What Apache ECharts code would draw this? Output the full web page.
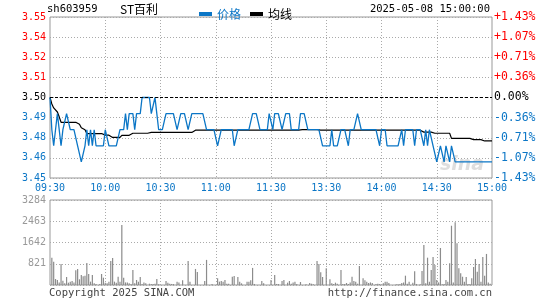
<!DOCTYPE html>
<html><head><meta charset="utf-8">
<script src="https://cdn.jsdelivr.net/npm/echarts/dist/echarts.min.js"></script>
<style>html,body{margin:0;padding:0;background:#fff}#c{width:545px;height:300px}</style>
</head><body><div id="c"></div>
<script>
const stockCode = 'sh603959';
const stockName = 'ST百利';
const timestamp = '2025-05-08 15:00:00';
const prevClose = 3.50;
const xTickLabels = ['09:30','10:00','10:30','11:00','11:30','13:30','14:00','14:30','15:00'];
const priceTickLabels = ['3.45','3.46','3.48','3.49','3.50','3.51','3.52','3.54','3.55'];
const pctTickLabels = ['-1.43%','-1.07%','-0.71%','-0.36%','0.00%','+0.36%','+0.71%','+1.07%','+1.43%'];
const volTickLabels = ['','821','1642','2463','3284'];

const price = [
3.50,3.48,3.47,3.48,3.49,3.49,3.47,3.48,3.48,3.49,
3.49,3.48,3.48,3.48,3.48,3.47,3.47,3.46,3.46,3.47,
3.48,3.47,3.48,3.47,3.48,3.47,3.47,3.47,3.47,3.47,
3.48,3.48,3.47,3.47,3.47,3.47,3.47,3.47,3.48,3.48,
3.48,3.49,3.48,3.49,3.49,3.49,3.48,3.49,3.49,3.49,
3.50,3.50,3.50,3.50,3.50,3.49,3.49,3.50,3.49,3.48,
3.48,3.48,3.48,3.49,3.49,3.49,3.49,3.49,3.49,3.48,
3.48,3.49,3.49,3.49,3.49,3.48,3.48,3.49,3.49,3.49,
3.49,3.49,3.49,3.49,3.49,3.48,3.48,3.48,3.48,3.48,
3.48,3.47,3.47,3.48,3.48,3.48,3.48,3.48,3.48,3.48,
3.47,3.47,3.48,3.48,3.48,3.48,3.48,3.48,3.48,3.48,
3.49,3.49,3.49,3.49,3.48,3.48,3.48,3.48,3.48,3.49,
3.49,3.48,3.49,3.49,3.49,3.49,3.48,3.48,3.49,3.49,
3.49,3.48,3.48,3.48,3.48,3.48,3.49,3.49,3.49,3.49,
3.48,3.48,3.48,3.48,3.48,3.48,3.48,3.48,3.47,3.47,
3.47,3.47,3.47,3.48,3.47,3.47,3.47,3.47,3.48,3.48,
3.48,3.48,3.47,3.48,3.48,3.48,3.48,3.49,3.49,3.48,
3.48,3.48,3.48,3.48,3.48,3.48,3.48,3.48,3.48,3.47,
3.48,3.48,3.48,3.47,3.47,3.47,3.47,3.47,3.47,3.47,
3.47,3.48,3.47,3.48,3.48,3.48,3.48,3.48,3.47,3.48,
3.48,3.48,3.48,3.47,3.48,3.47,3.48,3.48,3.47,3.47,
3.46,3.46,3.47,3.47,3.46,3.47,3.47,3.46,3.47,3.47,
3.46,3.46,3.46,3.46,3.46,3.46,3.46,3.46,3.46,3.46,
3.46,3.46,3.46,3.46,3.46,3.46,3.46,3.46,3.46,3.46,
3.46
];

const avgPrice = [
3.5000,3.4960,3.4935,3.4925,3.4910,3.4880,3.4846,3.4846,3.4846,3.4846,
3.4846,3.4846,3.4846,3.4846,3.4846,3.4834,3.4834,3.4812,3.4812,3.4800,
3.4776,3.4776,3.4776,3.4776,3.4776,3.4776,3.4776,3.4776,3.4776,3.4776,
3.4766,3.4766,3.4766,3.4766,3.4752,3.4752,3.4752,3.4752,3.4752,3.4765,
3.4765,3.4765,3.4765,3.4765,3.4765,3.4778,3.4778,3.4778,3.4778,3.4778,
3.4778,3.4778,3.4778,3.4778,3.4778,3.4783,3.4783,3.4783,3.4783,3.4783,
3.4783,3.4783,3.4783,3.4783,3.4783,3.4783,3.4783,3.4783,3.4783,3.4783,
3.4783,3.4783,3.4783,3.4783,3.4783,3.4783,3.4783,3.4783,3.4783,3.4797,
3.4797,3.4797,3.4797,3.4797,3.4797,3.4797,3.4797,3.4797,3.4797,3.4797,
3.4797,3.4797,3.4797,3.4797,3.4797,3.4797,3.4797,3.4797,3.4797,3.4797,
3.4797,3.4797,3.4797,3.4797,3.4797,3.4797,3.4797,3.4797,3.4797,3.4797,
3.4797,3.4797,3.4797,3.4797,3.4797,3.4797,3.4797,3.4797,3.4797,3.4797,
3.4797,3.4797,3.4797,3.4797,3.4797,3.4797,3.4797,3.4797,3.4797,3.4797,
3.4797,3.4797,3.4797,3.4797,3.4797,3.4797,3.4800,3.4800,3.4800,3.4800,
3.4800,3.4800,3.4800,3.4800,3.4800,3.4800,3.4800,3.4797,3.4797,3.4797,
3.4797,3.4797,3.4797,3.4797,3.4797,3.4797,3.4797,3.4797,3.4797,3.4797,
3.4797,3.4797,3.4797,3.4797,3.4797,3.4797,3.4797,3.4797,3.4797,3.4797,
3.4797,3.4797,3.4797,3.4797,3.4797,3.4797,3.4797,3.4797,3.4797,3.4797,
3.4797,3.4797,3.4797,3.4797,3.4797,3.4797,3.4797,3.4797,3.4797,3.4797,
3.4797,3.4797,3.4797,3.4797,3.4797,3.4797,3.4797,3.4797,3.4797,3.4797,
3.4797,3.4797,3.4797,3.4785,3.4785,3.4785,3.4785,3.4785,3.4785,3.4778,
3.4778,3.4778,3.4778,3.4778,3.4778,3.4778,3.4778,3.4778,3.4746,3.4746,
3.4746,3.4746,3.4746,3.4746,3.4746,3.4746,3.4746,3.4746,3.4746,3.4738,
3.4738,3.4738,3.4738,3.4738,3.4738,3.4730,3.4730,3.4730,3.4730,3.4730,
3.4730
];

const volume = [
0,1050,900,230,190,100,810,167,64,310,
90,130,155,100,570,620,220,390,335,360,
850,425,130,390,64,40,0,40,425,283,
90,64,130,930,1040,130,90,320,130,2320,
283,100,100,64,40,580,64,193,130,310,
40,100,64,0,50,40,40,50,230,25,
0,0,0,155,90,50,40,40,0,130,
100,0,180,0,0,930,130,0,0,620,
500,0,0,0,155,970,0,0,40,0,
0,260,130,155,130,193,50,50,0,320,
350,0,310,130,64,0,0,130,130,180,
660,40,0,0,0,155,64,0,0,0,
193,0,386,40,40,0,155,193,0,90,
155,50,100,130,40,0,116,0,0,25,
0,77,50,25,0,930,810,490,310,0,
645,0,220,64,40,90,50,0,580,40,
40,77,40,100,320,155,130,50,735,0,
260,180,130,77,100,77,0,40,50,40,
0,64,130,130,77,0,0,0,25,25,
40,77,100,360,50,130,0,90,530,40,
0,25,540,1545,64,1056,130,580,1080,770,
193,100,1430,25,40,193,130,837,2290,100,
2420,1610,645,450,320,130,310,40,40,260,
695,1005,515,810,130,1080,360,1200,100,50,
0
];

// minute categories 09:30-11:30, 13:01-15:00
const times = [];
function pad(n){return (n<10?'0':'')+n;}
for (let m = 9*60+30; m <= 11*60+30; m++) times.push(pad(Math.floor(m/60))+':'+pad(m%60));
for (let m = 13*60+1; m <= 15*60; m++) times.push(pad(Math.floor(m/60))+':'+pad(m%60));

const BLUE = '#0b76c6', RED = '#f00', GRAY = '#999';
const MONO = 'DejaVu Sans Mono';
const pMin = 3.45, pMax = 3.55, pStep = 0.0125;
function pIdx(v){return Math.round((v - pMin)/pStep);}
function pColor(v){const k = pIdx(v); return k > 4 ? RED : (k === 4 ? '#000' : BLUE);}
const every30 = (idx) => idx % 30 === 0;
const split30 = (idx) => idx % 30 === 0 && idx > 0 && idx < times.length - 1;

const chart = echarts.init(document.getElementById('c'), null, {renderer: 'canvas'});
chart.setOption({
  animation: false,
  backgroundColor: '#fff',
  textStyle: {fontFamily: MONO},
  legend: {
    left: 194, top: 3, icon: 'rect', itemWidth: 13, itemHeight: 4, itemGap: 9,
    textStyle: {fontSize: 12, fontFamily: 'Noto Sans CJK SC'},
    data: [{name: '价格', textStyle: {color: BLUE}}, {name: '均线', textStyle: {color: '#000'}}]
  },
  grid: [
    {left: 50, top: 17, width: 442, height: 161, show: true, borderColor: GRAY, borderWidth: 1, backgroundColor: '#fff'},
    {left: 50, top: 200, width: 442, height: 85, show: true, borderColor: GRAY, borderWidth: 1, backgroundColor: '#fff'}
  ],
  xAxis: [
    {type: 'category', gridIndex: 0, data: times, boundaryGap: false,
     axisLine: {show: false}, axisTick: {show: false},
     axisLabel: {interval: every30, color: BLUE, fontSize: 10, fontFamily: MONO, margin: 5,
       showMinLabel: true, showMaxLabel: true,
       formatter: (v, idx) => xTickLabels[Math.round(idx/30)]},
     splitLine: {show: true, interval: split30, lineStyle: {color: '#aaa', type: [1,2], width: 1}}},
    {type: 'category', gridIndex: 1, data: times, boundaryGap: false,
     axisLine: {show: false}, axisTick: {show: false}, axisLabel: {show: false},
     splitLine: {show: true, interval: split30, lineStyle: {color: '#aaa', type: [1,2], width: 1}}}
  ],
  yAxis: [
    {type: 'value', gridIndex: 0, min: pMin, max: pMax, interval: pStep, position: 'left',
     axisLine: {show: false}, axisTick: {show: false},
     axisLabel: {fontSize: 10, fontFamily: MONO, margin: 4, color: (v) => pColor(v),
       formatter: (v) => priceTickLabels[pIdx(v)]},
     splitLine: {show: true, lineStyle: {color: '#aaa', type: [1,2], width: 1}}},
    {type: 'value', gridIndex: 0, min: pMin, max: pMax, interval: pStep, position: 'right',
     axisLine: {show: false}, axisTick: {show: false},
     axisLabel: {fontSize: 11.5, fontFamily: MONO, margin: 2, color: (v) => pColor(v),
       formatter: (v) => pctTickLabels[pIdx(v)]},
     splitLine: {show: false}},
    {type: 'value', gridIndex: 1, min: 0, max: 3284, interval: 821,
     axisLine: {show: false}, axisTick: {show: false},
     axisLabel: {fontSize: 10, fontFamily: MONO, margin: 4, color: GRAY,
       formatter: (v) => volTickLabels[Math.round(v/821)]},
     splitLine: {show: true, lineStyle: {color: '#aaa', type: [1,2], width: 1}}}
  ],
  series: [
    {name: '价格', type: 'line', xAxisIndex: 0, yAxisIndex: 0, data: price, showSymbol: false,
     lineStyle: {color: BLUE, width: 1.3}, itemStyle: {color: BLUE}, z: 3,
     markLine: {silent: true, symbol: 'none', label: {show: false},
       lineStyle: {color: '#000', type: [3,2], width: 1}, data: [{yAxis: prevClose}]}},
    {name: '均线', type: 'line', xAxisIndex: 0, yAxisIndex: 0, data: avgPrice, showSymbol: false,
     lineStyle: {color: '#000', width: 1.2}, itemStyle: {color: '#000'}, z: 2},
    {name: '成交量', type: 'bar', xAxisIndex: 1, yAxisIndex: 2, data: volume, barWidth: 1.2,
     itemStyle: {color: '#8c8c8c'}}
  ],
  graphic: [
    {type: 'text', left: 47, top: 4, style: {text: stockCode, font: '10.5px "DejaVu Sans Mono"', fill: '#000'}},
    {type: 'text', left: 120, top: 3, style: {text: stockName, font: '12px "Noto Sans CJK SC"', fill: '#000'}},
    {type: 'text', right: 55, top: 4, style: {text: timestamp, font: '10.5px "DejaVu Sans Mono"', fill: '#000'}},
    {type: 'text', left: 440, top: 156, z: 0, style: {text: 'sina', font: 'italic bold 19px "DejaVu Sans"', fill: 'rgba(160,160,160,0.35)'}},
    {type: 'text', left: 49, top: 288, style: {text: 'Copyright 2025 SINA.COM', font: '10.5px "DejaVu Sans Mono"', fill: '#444'}},
    {type: 'text', right: 53, top: 288, style: {text: 'http://finance.sina.com.cn', font: '10.5px "DejaVu Sans Mono"', fill: '#444'}}
  ]
});
</script></body></html>
